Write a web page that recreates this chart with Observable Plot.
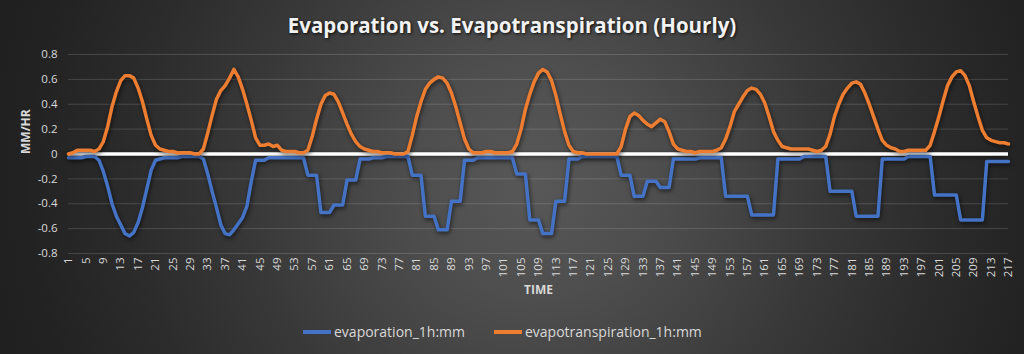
<!DOCTYPE html>
<html><head><meta charset="utf-8">
<script src="https://cdn.jsdelivr.net/npm/d3@7"></script>
<script src="https://cdn.jsdelivr.net/npm/@observablehq/plot@0.6"></script>
<style>
html,body{margin:0;padding:0;background:#1e1e1e;}
#chart{position:relative;width:1024px;height:354px;overflow:hidden;
 background: radial-gradient(circle at 535px 180px, #585858 0px, #4e4e4e 120px, #444444 200px, #383838 290px, #2c2c2c 400px, #222222 510px, #1b1b1b 680px);
 font-family:"Open Sans",sans-serif;}
#title{position:absolute;top:10px;left:0;width:1024px;text-align:center;color:#f2f2f2;font-size:20.5px;font-weight:700;line-height:30px;text-shadow:1px 1px 3px rgba(0,0,0,0.85);}
#plot{position:absolute;top:44px;left:0;}
#legend{position:absolute;top:322px;left:303px;display:flex;color:#d9d9d9;font-size:14px;line-height:20px;}
.item{display:flex;align-items:center;}
.item + .item{margin-left:29px;}
.sw{width:28px;height:3.5px;margin-right:3px;}
</style></head>
<body>
<div id="chart">
  <div id="title">Evaporation vs. Evapotranspiration (Hourly)</div>
  <div id="plot"></div>
  <div id="legend"></div>
</div>
<script>
const seriesNames = ["evaporation_1h:mm", "evapotranspiration_1h:mm"];
const seriesColors = ["#4472C4", "#ED7D31"];
const yTicks = [-0.8, -0.6, -0.4, -0.2, 0, 0.2, 0.4, 0.6, 0.8];
const xTicks = [1,5,9,13,17,21,25,29,33,37,41,45,49,53,57,61,65,69,73,77,81,85,89,93,97,101,105,109,113,117,121,125,129,133,137,141,145,149,153,157,161,165,169,173,177,181,185,189,193,197,201,205,209,213,217];

const evapotranspiration = [
 0.00, 0.01, 0.03, 0.03, 0.03, 0.03, 0.02, 0.04, 0.10, 0.22,
 0.38, 0.50, 0.59, 0.63, 0.63, 0.61, 0.53, 0.42, 0.28, 0.15,
 0.07, 0.04, 0.03, 0.02, 0.02, 0.01, 0.01, 0.01, 0.01, 0.00,
 0.00, 0.04, 0.17, 0.31, 0.44, 0.51, 0.55, 0.61, 0.68, 0.62,
 0.52, 0.40, 0.27, 0.13, 0.07, 0.07, 0.08, 0.06, 0.07, 0.03,
 0.02, 0.02, 0.02, 0.01, 0.01, 0.03, 0.14, 0.28, 0.40, 0.47,
 0.49, 0.48, 0.42, 0.33, 0.24, 0.16, 0.10, 0.06, 0.04, 0.03,
 0.02, 0.02, 0.01, 0.01, 0.01, 0.00, 0.00, 0.00, 0.02, 0.15,
 0.30, 0.42, 0.52, 0.57, 0.60, 0.62, 0.61, 0.57, 0.49, 0.38,
 0.25, 0.12, 0.04, 0.01, 0.01, 0.01, 0.02, 0.02, 0.01, 0.01,
 0.01, 0.01, 0.02, 0.08, 0.20, 0.36, 0.48, 0.58, 0.65, 0.68,
 0.66, 0.59, 0.47, 0.32, 0.18, 0.07, 0.02, 0.01, 0.01, 0.00,
 0.00, 0.00, 0.00, 0.00, 0.00, 0.00, 0.00, 0.06, 0.20, 0.30,
 0.33, 0.31, 0.27, 0.24, 0.22, 0.25, 0.28, 0.26, 0.18, 0.08,
 0.04, 0.03, 0.02, 0.02, 0.01, 0.02, 0.02, 0.02, 0.02, 0.03,
 0.05, 0.12, 0.22, 0.34, 0.40, 0.46, 0.51, 0.53, 0.52, 0.48,
 0.41, 0.30, 0.18, 0.11, 0.06, 0.05, 0.04, 0.04, 0.04, 0.04,
 0.04, 0.03, 0.02, 0.03, 0.06, 0.16, 0.30, 0.40, 0.48, 0.53,
 0.57, 0.58, 0.56, 0.49, 0.40, 0.30, 0.20, 0.11, 0.07, 0.05,
 0.04, 0.02, 0.02, 0.03, 0.03, 0.03, 0.03, 0.03, 0.07, 0.18,
 0.30, 0.43, 0.55, 0.62, 0.66, 0.67, 0.63, 0.55, 0.42, 0.30,
 0.19, 0.13, 0.11, 0.10, 0.09, 0.09, 0.08
];

const evaporation = [
 -0.03, -0.03, -0.03, -0.03, -0.02, -0.02, -0.02, -0.05, -0.14, -0.26,
 -0.40, -0.50, -0.57, -0.64, -0.66, -0.63, -0.55, -0.43, -0.28, -0.13,
 -0.05, -0.04, -0.03, -0.03, -0.03, -0.03, -0.02, -0.02, -0.02, -0.02,
 -0.02, -0.04, -0.16, -0.30, -0.43, -0.57, -0.64, -0.65, -0.61, -0.56,
 -0.51, -0.42, -0.22, -0.05, -0.05, -0.05, -0.03, -0.03, -0.03, -0.03,
 -0.03, -0.03, -0.03, -0.03, -0.03, -0.17, -0.17, -0.17, -0.47, -0.47,
 -0.47, -0.41, -0.41, -0.41, -0.21, -0.21, -0.21, -0.04, -0.04, -0.04,
 -0.03, -0.03, -0.03, -0.02, -0.02, -0.02, -0.02, -0.02, -0.02, -0.17,
 -0.17, -0.17, -0.50, -0.50, -0.50, -0.61, -0.61, -0.61, -0.38, -0.38,
 -0.38, -0.05, -0.05, -0.05, -0.03, -0.03, -0.03, -0.03, -0.03, -0.03,
 -0.03, -0.03, -0.03, -0.16, -0.16, -0.16, -0.53, -0.53, -0.53, -0.64,
 -0.64, -0.64, -0.38, -0.38, -0.38, -0.04, -0.04, -0.04, -0.02, -0.02,
 -0.02, -0.02, -0.02, -0.02, -0.02, -0.02, -0.02, -0.17, -0.17, -0.17,
 -0.34, -0.34, -0.34, -0.22, -0.22, -0.22, -0.27, -0.27, -0.27, -0.04,
 -0.04, -0.04, -0.04, -0.04, -0.04, -0.03, -0.03, -0.03, -0.03, -0.03,
 -0.03, -0.34, -0.34, -0.34, -0.34, -0.34, -0.34, -0.49, -0.49, -0.49,
 -0.49, -0.49, -0.49, -0.04, -0.04, -0.04, -0.04, -0.04, -0.04, -0.02,
 -0.02, -0.02, -0.02, -0.02, -0.02, -0.30, -0.30, -0.30, -0.30, -0.30,
 -0.30, -0.50, -0.50, -0.50, -0.50, -0.50, -0.50, -0.04, -0.04, -0.04,
 -0.04, -0.04, -0.04, -0.02, -0.02, -0.02, -0.02, -0.02, -0.02, -0.33,
 -0.33, -0.33, -0.33, -0.33, -0.33, -0.53, -0.53, -0.53, -0.53, -0.53,
 -0.53, -0.06, -0.06, -0.06, -0.06, -0.06, -0.06
];

const fmt = d => d === 0 ? "0" : d.toFixed(1);
const hourOf = (d, i) => i + 1;

const chart = Plot.plot({
  width: 1024, height: 266,
  marginLeft: 68, marginRight: 16, marginTop: 10, marginBottom: 57,
  style: {background: "transparent", color: "#d9d9d9", fontFamily: "Open Sans", fontSize: "11.5px", overflow: "visible"},
  x: {domain: [1, 217]},
  y: {domain: [-0.8, 0.8]},
  marks: [
    Plot.gridY(yTicks, {stroke: "#ffffff", strokeOpacity: 0.15, strokeWidth: 1}),
    Plot.axisY(yTicks, {tickSize: 0, tickPadding: 11, tickFormat: fmt, fill: "#d9d9d9", fontSize: 11.5, label: null}),
    Plot.axisX(xTicks, {tickSize: 0, tickPadding: 4, tickRotate: -90, fill: "#d9d9d9", fontSize: 11.5, label: null}),
    Plot.ruleY([0], {stroke: "#ffffff", strokeWidth: 3.5}),
    Plot.line(evaporation, {x: hourOf, y: d => d, stroke: seriesColors[0], strokeWidth: 3.5}),
    Plot.line(evapotranspiration, {x: hourOf, y: d => d, stroke: seriesColors[1], strokeWidth: 3.5}),
    Plot.text(["TIME"], {text: d => d, frameAnchor: "bottom", dy: 40, fontWeight: "bold", fill: "#d9d9d9", fontSize: 12}),
    Plot.text(["MM/HR"], {text: d => d, frameAnchor: "left", dx: -42, rotate: -90, fontWeight: "bold", fill: "#d9d9d9", fontSize: 12})
  ]
});
d3.select(chart).selectAll('g[aria-label="line"]').style("filter", "drop-shadow(1px 2px 2px rgba(0,0,0,0.6))");
d3.select(chart).selectAll('g[aria-label="rule"]').style("filter", "drop-shadow(0px 1px 2px rgba(0,0,0,0.5))");
document.getElementById("plot").appendChild(chart);

const legend = d3.select("#legend");
seriesNames.forEach((name, k) => {
  const item = legend.append("div").attr("class", "item");
  item.append("div").attr("class", "sw").style("background", seriesColors[k]);
  item.append("span").text(name);
});
</script>
</body></html>
